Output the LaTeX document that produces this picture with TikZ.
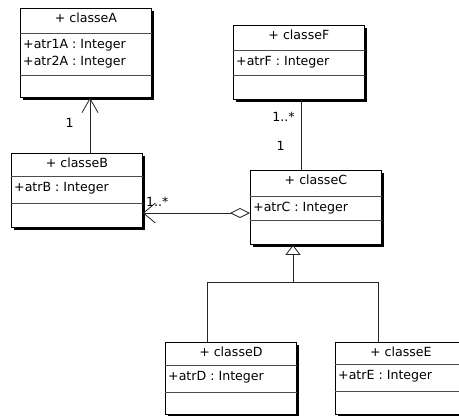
\documentclass[tikz,border=0pt]{standalone}
\usepackage{fontspec}
\setmainfont{DejaVu Sans}
\usetikzlibrary{arrows.meta,shadows}

\tikzset{
  classe/.style={rectangle, draw=black, fill=white, line width=0.8pt, anchor=north west,
    inner sep=0pt, minimum width=131pt,
    drop shadow={shadow xshift=2.5pt, shadow yshift=-2.5pt, fill=black, opacity=1}},
  texte/.style={inner sep=0pt, font=\fontsize{12.6}{14}\selectfont},
  titre/.style={texte, anchor=base},
  attr/.style={texte, anchor=base west},
  mult/.style={texte},
  sep/.style={draw=black!70, line width=0.7pt},
  lien/.style={draw=black!85, line width=0.8pt},
}

% une classe UML : nom, position, hauteur, haut. titre, haut. attributs, titre, attributs
\newcommand{\classeuml}[7]{%
  \node[classe, minimum height=#3pt] (#1) at #2 {};
  \node[titre] (#1-titre) at ([yshift=-14pt]#1.north) {#6};
  \draw[sep] ([yshift=-#4pt]#1.north west) -- ([yshift=-#4pt]#1.north east);
  \draw[sep] ([yshift=-#4pt-#5pt]#1.north west) -- ([yshift=-#4pt-#5pt]#1.north east);
  \foreach \ligne [count=\i] in {#7}
    \node[attr] (#1-attr-\i) at ([xshift=3pt, yshift=-#4pt-15.5pt-16.5pt*\i+16.5pt]#1.north west) {\ligne};
}

\begin{document}
\begin{tikzpicture}[x=1pt, y=-1pt]
  \useasboundingbox (0,0) rectangle (459,416);

  \classeuml{classeA}{(20,8)}{89}{25}{42}{+ classeA}{+atr1A : Integer, +atr2A : Integer}
  \classeuml{classeB}{(11,153)}{74}{23}{27}{+ classeB}{+atrB : Integer}
  \classeuml{classeF}{(233,25)}{74}{25}{25}{+ classeF}{+atrF : Integer}
  \classeuml{classeC}{(250,170)}{74}{26}{24}{+ classeC}{+atrC : Integer}
  \classeuml{classeD}{(165,342)}{72}{23}{27}{+ classeD}{+atrD : Integer}
  \classeuml{classeE}{(335,342)}{72}{22}{27}{+ classeE}{+atrE : Integer}

  \coordinate (lienAB) at (90,0);
  \coordinate (lienFC) at (301,0);
  \coordinate (lienCB) at (0,213);
  \coordinate (jonction) at (293,282);
  \coordinate (brancheD) at (207,282);
  \coordinate (brancheE) at (378,282);

  % associations
  \draw[lien, -{Straight Barb[length=14pt,width=16pt]}]
    (lienAB |- classeB.north) -- (lienAB |- classeA.south)
    node[mult, pos=0.55, left=16pt] {1};
  \draw[lien] (lienFC |- classeF.south) -- (lienFC |- classeC.north)
    node[mult, pos=0.245, left=6pt] {1..*}
    node[mult, pos=0.66, left=16pt] {1};

  % agregation
  \draw[lien, {Diamond[open,length=20pt,width=10pt]}-{Straight Barb[length=12pt,width=20pt]}]
    (lienCB -| classeC.west) -- (lienCB -| classeB.east)
    node[mult, pos=1, anchor=south west, xshift=3pt, yshift=6pt] {1..*};

  % heritage
  \draw[lien, -{Triangle[open,length=10pt,width=15pt]}] (jonction) -- (jonction |- classeC.south);
  \draw[lien] (classeD.north -| brancheD) |- (brancheE) -- (brancheE |- classeE.north);
\end{tikzpicture}
\end{document}
